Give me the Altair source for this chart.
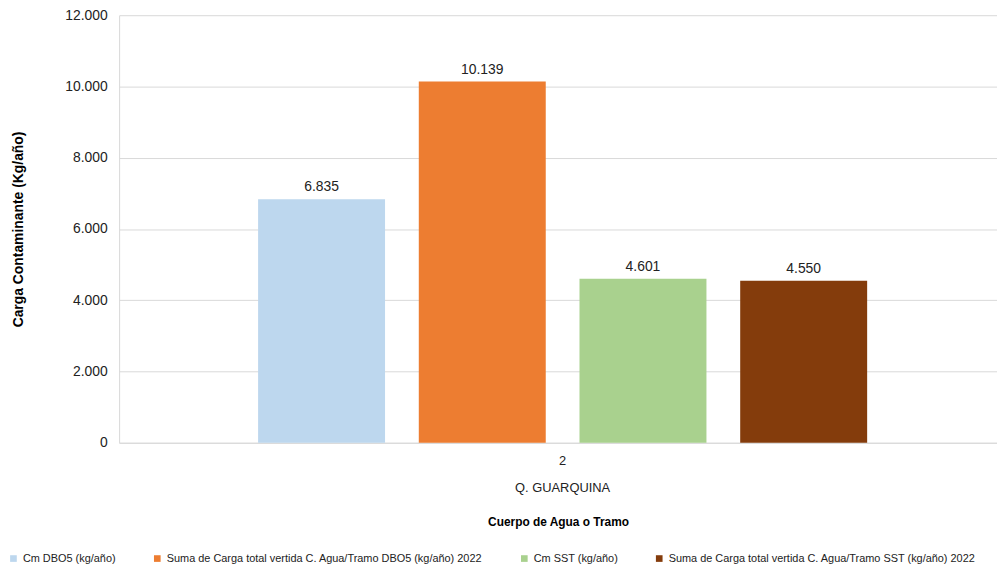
import altair as alt
import pandas as pd

series = [
    "Cm DBO5 (kg/año)",
    "Suma de Carga total vertida C. Agua/Tramo DBO5 (kg/año) 2022",
    "Cm SST (kg/año)",
    "Suma de Carga total vertida C. Agua/Tramo SST (kg/año) 2022",
]
values = [6835, 10139, 4601, 4550]
colors = ["#BDD7EE", "#ED7D31", "#A9D18E", "#843C0C"]
category = "2"
category_name = "Q. GUARQUINA"

df = pd.DataFrame({
    "cat": [category] * len(series),
    "serie": series,
    "valor": values,
    "etiqueta": [f"{v:,}".replace(",", ".") for v in values],
})
df_name = pd.DataFrame({"cat": [category], "nombre": [category_name]})

FONT = "Liberation Sans"

x_enc = alt.X("cat:N",
              scale=alt.Scale(paddingInner=0, paddingOuter=0.2207, align=0.517),
              axis=alt.Axis(title="Cuerpo de Agua o Tramo", labelAngle=0,
                            labelFontSize=13, labelPadding=12, ticks=False,
                            domain=True, domainColor="#d9d9d9",
                            titleFontSize=12, titleFontWeight="bold",
                            titlePadding=49, titleColor="black",
                            labelColor="#222"))
xoff = alt.XOffset("serie:N", sort=series,
                   scale=alt.Scale(paddingInner=0.21, paddingOuter=0))

bars = alt.Chart(df).mark_bar().encode(
    x=x_enc,
    xOffset=xoff,
    y=alt.Y("valor:Q",
            scale=alt.Scale(domain=[0, 12000]),
            axis=alt.Axis(title="Carga Contaminante (Kg/año)",
                          values=[0, 2000, 4000, 6000, 8000, 10000, 12000],
                          labelExpr="replace(format(datum.value, ','), ',', '.')",
                          labelFontSize=14, labelColor="#222", labelPadding=12,
                          ticks=False, domain=True, domainColor="#d9d9d9",
                          gridColor="#d9d9d9",
                          titleFontSize=14, titleFontWeight="bold",
                          titleColor="black", titlePadding=40)),
    color=alt.Color("serie:N", sort=series,
                    scale=alt.Scale(domain=series, range=colors),
                    legend=alt.Legend(title=None, orient="none",
                                      legendX=-112,
                                      legendY=alt.ExprRef("height + 111"),
                                      direction="horizontal", columns=4,
                                      symbolType="square", symbolSize=45,
                                      symbolStrokeWidth=0,
                                      labelFontSize=11, labelLimit=450,
                                      labelOffset=4,
                                      columnPadding=36,
                                      labelColor="#222")),
)

labels = alt.Chart(df).mark_text(dy=-12, fontSize=14, font=FONT, color="#222").encode(
    x=alt.X("cat:N"),
    xOffset=xoff,
    y=alt.Y("valor:Q"),
    text="etiqueta:N",
)

name = alt.Chart(df_name).mark_text(fontSize=13, font=FONT, color="#222",
                                    baseline="middle").encode(
    x=alt.X("cat:N"),
    y=alt.YValue(alt.ExprRef("height + 46")),
    text="nombre:N",
)

chart = alt.layer(bars, labels, name).properties(
    width=885, height=431,
    padding={"left": 112, "top": 5, "right": 0, "bottom": 121},
    autosize=alt.AutoSizeParams(type="none"),
).configure(font=FONT).configure_view(stroke=None).configure_axis(
    labelFont=FONT, titleFont=FONT
).configure_legend(labelFont=FONT)

chart.save("out.html", embed_options={"renderer": "svg", "actions": False})
